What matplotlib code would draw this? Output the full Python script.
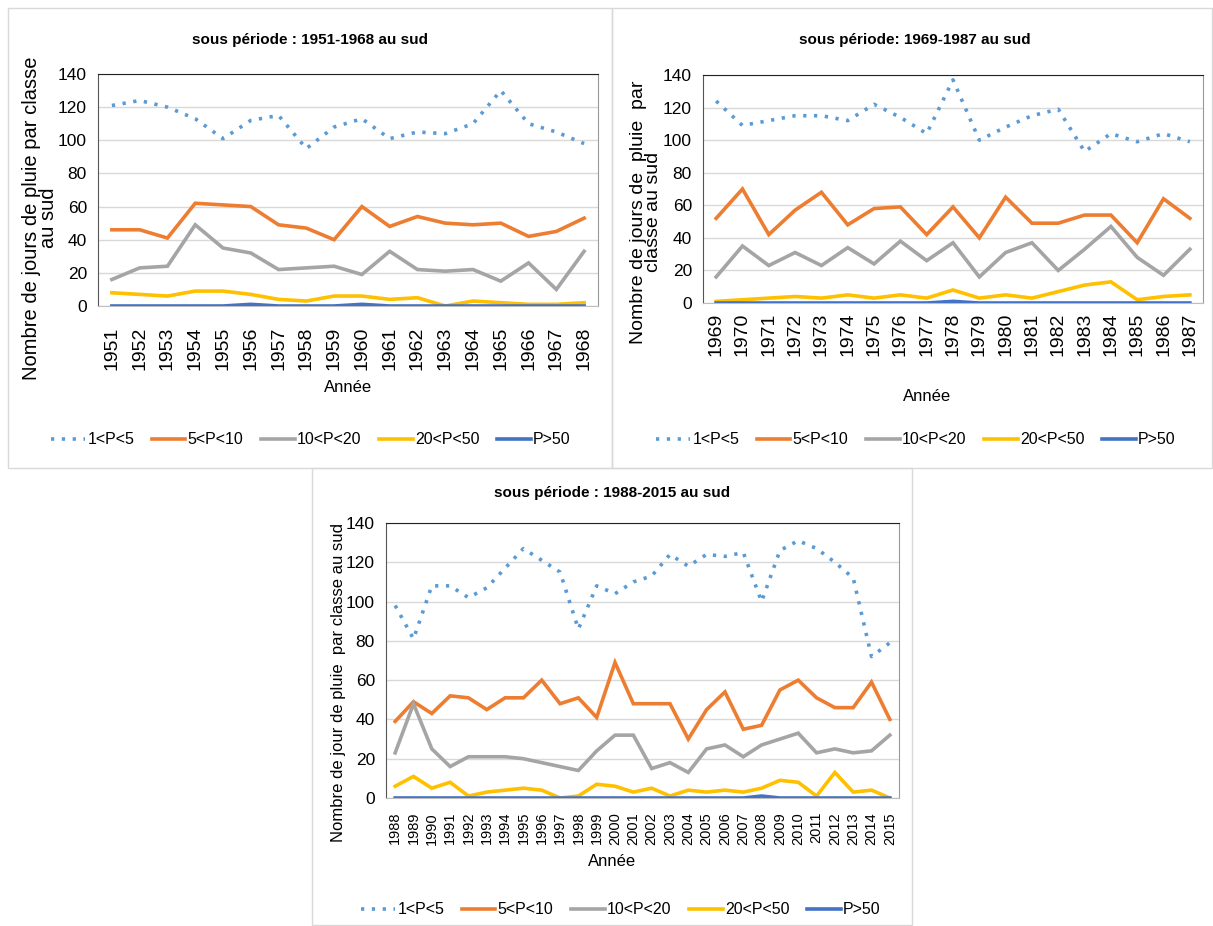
import matplotlib.pyplot as plt
from matplotlib.patches import Rectangle
from matplotlib.lines import Line2D

# data
labels = ["1<P<5", "5<P<10", "10<P<20", "20<P<50", "P>50"]
colors = ["#5B9BD5", "#ED7D31", "#A5A5A5", "#FFC000", "#4472C4"]

years1 = list(range(1951, 1969))
p1_5_a = [121, 124, 120, 113, 101, 112, 115, 95, 108, 113, 101, 105, 104, 110, 130, 110, 105, 98]
p5_10_a = [46, 46, 41, 62, 61, 60, 49, 47, 40, 60, 48, 54, 50, 49, 50, 42, 45, 53]
p10_20_a = [16, 23, 24, 49, 35, 32, 22, 23, 24, 19, 33, 22, 21, 22, 15, 26, 10, 33]
p20_50_a = [8, 7, 6, 9, 9, 7, 4, 3, 6, 6, 4, 5, 0, 3, 2, 1, 1, 2]
p50_a = [0, 0, 0, 0, 0, 1, 0, 0, 0, 1, 0, 0, 0, 0, 0, 0, 0, 0]

years2 = list(range(1969, 1988))
p1_5_b = [124, 109, 112, 115, 115, 112, 122, 114, 104, 137, 100, 108, 115, 119, 93, 104, 99, 104, 99]
p5_10_b = [52, 70, 42, 57, 68, 48, 58, 59, 42, 59, 40, 65, 49, 49, 54, 54, 37, 64, 52]
p10_20_b = [16, 35, 23, 31, 23, 34, 24, 38, 26, 37, 16, 31, 37, 20, 33, 47, 28, 17, 33]
p20_50_b = [1, 2, 3, 4, 3, 5, 3, 5, 3, 8, 3, 5, 3, 7, 11, 13, 2, 4, 5]
p50_b = [0, 0, 0, 0, 0, 0, 0, 0, 0, 1, 0, 0, 0, 0, 0, 0, 0, 0, 0]

years3 = list(range(1988, 2016))
p1_5_c = [98, 81, 108, 108, 102, 107, 117, 127, 121, 115, 86, 108, 104, 110, 113, 124, 118,
          124, 123, 125, 100, 126, 131, 127, 120, 112, 72, 79]
p5_10_c = [39, 49, 43, 52, 51, 45, 51, 51, 60, 48, 51, 41, 69, 48, 48, 48, 30, 45, 54,
           35, 37, 55, 60, 51, 46, 46, 59, 40]
p10_20_c = [23, 48, 25, 16, 21, 21, 21, 20, 18, 16, 14, 24, 32, 32, 15, 18, 13, 25, 27,
            21, 27, 30, 33, 23, 25, 23, 24, 32]
p20_50_c = [6, 11, 5, 8, 1, 3, 4, 5, 4, 0, 1, 7, 6, 3, 5, 1, 4, 3, 4, 3, 5, 9, 8, 1, 13, 3, 4, 0]
p50_c = [0] * 20 + [1] + [0] * 7

W, H = 1213, 926
fig = plt.figure(figsize=(W / 100, H / 100), dpi=100)

font = ["Liberation Sans", "DejaVu Sans"]


def fx(x):
    return x / W


def fy(y):
    return 1 - y / H


# panel borders
for (x0, y0, x1, y1) in [(8, 8, 612, 468), (612, 8, 1212, 468), (312, 468, 912, 925)]:
    fig.patches.append(Rectangle((fx(x0), fy(y1)), fx(x1 - x0), (y1 - y0) / H,
                                 transform=fig.transFigure, fill=False,
                                 edgecolor="#d9d9d9", lw=1))


def panel(box, years, series, yearsize, yearpad):
    l, t, r, b = box
    ax = fig.add_axes([fx(l), fy(b), fx(r - l), (b - t) / H])
    x = list(range(len(years)))
    for i, vals in enumerate(series):
        if i == 0:
            ax.plot(x, vals, color=colors[i], lw=2.6, linestyle=(0, (0.9, 2.1)), zorder=3)
        else:
            ax.plot(x, vals, color=colors[i], lw=2.6, solid_joinstyle="miter", zorder=3)
    ax.set_xlim(-0.5, len(years) - 0.5)
    ax.set_ylim(0, 140)
    ax.set_yticks(range(0, 141, 20))
    ax.grid(axis="y", color="#d9d9d9", lw=1)
    ax.set_axisbelow(True)
    ax.set_xticks(x)
    ax.set_xticklabels([str(y) for y in years], rotation=90, family=font, fontsize=yearsize)
    for lab in ax.get_yticklabels():
        lab.set_family(font)
        lab.set_fontsize(12.5)
    ax.tick_params(length=0, pad=8)
    ax.tick_params(axis="x", pad=yearpad)
    ax.spines["top"].set_color("#222222")
    ax.spines["left"].set_color("#555555")
    ax.spines["right"].set_color("#999999")
    ax.spines["bottom"].set_color("#bfbfbf")
    return ax


panel((98, 74, 598, 306), years1, [p1_5_a, p5_10_a, p10_20_a, p20_50_a, p50_a], 14, 15)
panel((703, 75, 1203, 303), years2, [p1_5_b, p5_10_b, p10_20_b, p20_50_b, p50_b], 14, 7)
panel((386, 523, 899, 798), years3, [p1_5_c, p5_10_c, p10_20_c, p20_50_c, p50_c], 10.5, 10)

# titles
fig.text(fx(310), fy(40), "sous période : 1951-1968 au sud", ha="center", va="center",
         family=font, fontsize=11, fontweight="bold")
fig.text(fx(915), fy(40), "sous période: 1969-1987 au sud", ha="center", va="center",
         family=font, fontsize=11, fontweight="bold")
fig.text(fx(612), fy(493), "sous période : 1988-2015 au sud", ha="center", va="center",
         family=font, fontsize=11, fontweight="bold")

# axis titles
for (xx, yy) in [(348, 388), (927, 396), (612, 862)]:
    fig.text(fx(xx), fy(yy), "Année", ha="center", va="center", family=font, fontsize=12)

fig.text(fx(40), fy(218), "Nombre de jours de pluie par classe\nau sud", rotation=90,
         ha="center", va="center", multialignment="center", family=font, fontsize=14.5,
         linespacing=0.85)
fig.text(fx(646), fy(212), "Nombre de jours de  pluie  par\nclasse au sud", rotation=90,
         ha="center", va="center", multialignment="center", family=font, fontsize=14,
         linespacing=0.85)
fig.text(fx(338), fy(683), "Nombre de jour de pluie  par classe au sud", rotation=90,
         ha="center", va="center", family=font, fontsize=12)

# legends
handles = [Line2D([], [], color=colors[0], lw=2.6, linestyle=(0, (0.9, 2.1)))]
handles += [Line2D([], [], color=c, lw=2.6) for c in colors[1:]]
for (xx, yy) in [(311, 440), (916, 440), (621, 910)]:
    fig.legend(handles, labels, loc="center", bbox_to_anchor=(fx(xx), fy(yy)), ncol=5,
               frameon=False, prop={"family": font, "size": 11.5},
               handlelength=2.1, handletextpad=0.15, columnspacing=1.1)

fig.savefig("out.png", dpi=100)
